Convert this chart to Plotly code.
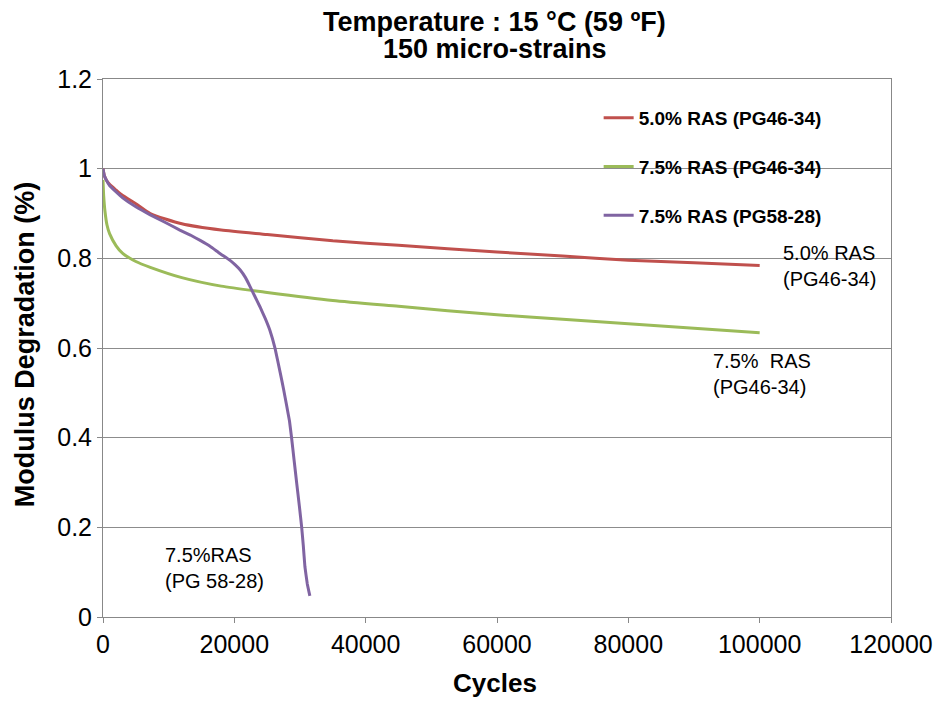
import plotly.graph_objects as go

# ---- data ----
red_x = [0, 200, 500, 1000, 2000, 3000, 5000, 7200, 12000, 18000, 25000, 35000, 45000,
         60000, 70000, 80000, 90000, 100000]
red_y = [1.0, 0.985, 0.975, 0.965, 0.952, 0.94, 0.922, 0.900, 0.877, 0.863, 0.853, 0.839,
         0.829, 0.814, 0.805, 0.796, 0.79, 0.784]

green_x = [0, 100, 300, 600, 1000, 2000, 3000, 5000, 7200, 12000, 18000, 25000, 35000,
           45000, 60000, 70000, 80000, 90000, 100000]
green_y = [0.975, 0.94, 0.905, 0.875, 0.855, 0.828, 0.811, 0.793, 0.780, 0.757, 0.738,
           0.724, 0.706, 0.693, 0.674, 0.664, 0.654, 0.644, 0.634]

purple_x = [0, 200, 500, 1000, 2000, 3000, 5000, 7200, 9500, 11700, 13300, 14800, 16300,
            17800, 19300, 20100, 20900, 21700, 22400, 23100, 23900, 24700, 25400, 26200,
            27000, 27500, 28000, 28400, 28700, 29100, 29500, 29900, 30250, 30500, 30750,
            31100, 31500]
purple_y = [1.0, 0.985, 0.975, 0.962, 0.948, 0.935, 0.915, 0.897, 0.880, 0.863, 0.852,
            0.840, 0.827, 0.811, 0.796, 0.786, 0.774, 0.757, 0.737, 0.716, 0.692, 0.666,
            0.640, 0.599, 0.544, 0.508, 0.469, 0.437, 0.402, 0.350, 0.298, 0.248, 0.201,
            0.160, 0.112, 0.075, 0.047]

series_names = ["5.0% RAS (PG46-34)", "7.5% RAS (PG46-34)", "7.5% RAS (PG58-28)"]
series_colors = ["#C0504D", "#9BBB59", "#8064A2"]

x_ticks = [0, 20000, 40000, 60000, 80000, 100000, 120000]
y_ticks = [0, 0.2, 0.4, 0.6, 0.8, 1, 1.2]
y_tick_text = ["0", "0.2", "0.4", "0.6", "0.8", "1", "1.2"]

title_lines = ["Temperature : 15 °C (59 ºF)", "150 micro-strains"]
x_title = "Cycles"
y_title = "Modulus Degradation (%)"

FONT = "Arial, Liberation Sans, sans-serif"

fig = go.Figure()
for i, (xs, ys) in enumerate([(red_x, red_y), (green_x, green_y), (purple_x, purple_y)]):
    fig.add_trace(go.Scatter(
        x=xs, y=ys, mode="lines", name=series_names[i],
        line=dict(color=series_colors[i], width=3, shape="spline",
                  smoothing=0.6 if i < 2 else 0.25),
        legendgroup=str(i),
    ))

annots = [
    ("5.0% RAS<br>(PG46-34)", 103300, 0.784),
    ("7.5%  RAS<br>(PG46-34)", 92600, 0.542),
    ("7.5%RAS<br>(PG 58-28)", 9200, 0.109),
]
for text, ax, ay in annots:
    fig.add_annotation(x=ax, y=ay, text=text, showarrow=False, xanchor="left",
                       yanchor="middle", align="left",
                       font=dict(family=FONT, size=20, color="black"))

# titles as annotations for precise placement
fig.add_annotation(xref="paper", yref="paper", x=0.497, y=1.106, text="<b>%s</b>" % title_lines[0],
                   showarrow=False, xanchor="center", yanchor="middle",
                   font=dict(family=FONT, size=27, color="black"))
fig.add_annotation(xref="paper", yref="paper", x=0.497, y=1.0565, text="<b>%s</b>" % title_lines[1],
                   showarrow=False, xanchor="center", yanchor="middle",
                   font=dict(family=FONT, size=27, color="black"))
fig.add_annotation(xref="paper", yref="paper", x=0.497, y=-0.1227, text="<b>%s</b>" % x_title,
                   showarrow=False, xanchor="center", yanchor="middle",
                   font=dict(family=FONT, size=26, color="black"))
fig.add_annotation(xref="paper", yref="paper", x=-0.099, y=0.507, text="<b>%s</b>" % y_title,
                   showarrow=False, xanchor="center", yanchor="middle", textangle=-90,
                   font=dict(family=FONT, size=27, color="black"))

fig.update_layout(
    width=941, height=702,
    paper_bgcolor="white", plot_bgcolor="white",
    margin=dict(l=95, r=58, t=71, b=93),
    font=dict(family=FONT, color="black"),
    showlegend=True,
    legend=dict(x=0.629, y=0.963, xanchor="left", yanchor="top",
                bgcolor="rgba(0,0,0,0)", tracegroupgap=21,
                font=dict(family=FONT, size=19, color="black", weight="bold"),
                itemwidth=30),
)
fig.update_xaxes(
    range=[0, 120000], tickvals=x_ticks, ticktext=[str(v) for v in x_ticks],
    showgrid=False, zeroline=False, showline=True, linecolor="#888888", linewidth=1,
    mirror=True, ticks="outside", ticklen=5, tickcolor="#888888", automargin=False,
    tickfont=dict(family=FONT, size=25, color="black"),
)
fig.update_yaxes(
    range=[0, 1.2], tickvals=y_ticks, ticktext=y_tick_text,
    showgrid=True, gridcolor="#8c8c8c", gridwidth=1, zeroline=False,
    showline=True, linecolor="#888888", linewidth=1, mirror=True, automargin=False,
    ticks="outside", ticklen=5, tickcolor="#888888",
    tickfont=dict(family=FONT, size=25, color="black"),
)

fig.write_html("out.html")
